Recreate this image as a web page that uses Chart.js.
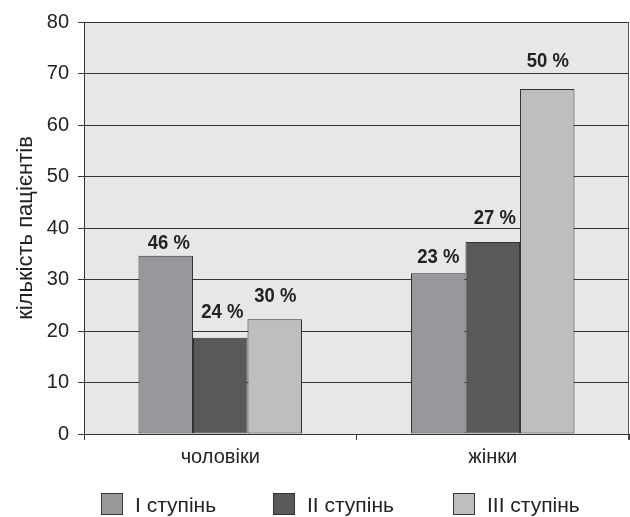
<!DOCTYPE html>
<html>
<head>
<meta charset="utf-8">
<script src="https://cdn.jsdelivr.net/npm/chart.js@4.4.0/dist/chart.umd.min.js"></script>
<style>
  html, body { margin: 0; padding: 0; background: #ffffff; }
  #wrap { width: 630px; height: 517px; position: relative; }
</style>
</head>
<body>
<div id="wrap"><canvas id="c" width="630" height="517"></canvas></div>
<script>
// ---- data ----
const categories = ['чоловіки', 'жінки'];
const seriesNames = ['І ступінь', 'ІІ ступінь', 'ІІІ ступінь'];
const stage1 = [34.6, 31.2];
const stage2 = [18.7, 37.3];
const stage3 = [22.3, 67.0];
const pct1 = ['46 %', '23 %'];
const pct2 = ['24 %', '27 %'];
const pct3 = ['30 %', '50 %'];
const yMin = 0, yMax = 80, yStep = 10;
const yTitle = 'кількість пацієнтів';

const colors = ['#97989c', '#58595b', '#bdbec0'];
const FONT = "'Liberation Sans', Arial, sans-serif";

const seriesValues = [stage1, stage2, stage3];
const seriesPct = [pct1, pct2, pct3];

const bgPlugin = {
  id: 'plotBg',
  beforeDraw(chart) {
    const { ctx, chartArea: a } = chart;
    ctx.save();
    ctx.fillStyle = '#e6e7e9';
    ctx.fillRect(a.left, a.top, a.right - a.left, a.bottom - a.top);
    ctx.restore();
  },
  afterDraw(chart) {
    const { ctx, chartArea: a } = chart;
    ctx.save();
    ctx.strokeStyle = '#555';
    ctx.lineWidth = 1;
    ctx.beginPath();
    ctx.moveTo(a.right - 0.5, a.top);
    ctx.lineTo(a.right - 0.5, a.bottom + 6);
    ctx.stroke();
    ctx.restore();
  }
};

const pctPlugin = {
  id: 'pctLabels',
  afterDatasetsDraw(chart, args, opts) {
    const { ctx } = chart;
    chart.data.datasets.forEach((ds, i) => {
      const meta = chart.getDatasetMeta(i);
      meta.data.forEach((bar, j) => {
        const g = opts.gaps[i][j];
        const dx = opts.dx[i][j];
        ctx.save();
        ctx.translate(bar.x + dx, bar.y - g);
        ctx.scale(0.88, 1);
        ctx.font = 'bold 21px ' + FONT;
        ctx.fillStyle = '#222';
        ctx.textAlign = 'center';
        ctx.textBaseline = 'alphabetic';
        ctx.fillText(ds.pct[j], 0, 0);
        ctx.restore();
      });
    });
  }
};

const legendPlugin = {
  id: 'customLegend',
  afterDraw(chart, args, opts) {
    const { ctx } = chart;
    ctx.save();
    ctx.font = '21px ' + FONT;
    ctx.textBaseline = 'middle';
    ctx.textAlign = 'left';
    chart.data.datasets.forEach((ds, i) => {
      const x = opts.starts[i];
      const y = opts.top;
      ctx.fillStyle = ds.backgroundColor;
      ctx.fillRect(x, y, 22, 22);
      ctx.strokeStyle = '#333';
      ctx.lineWidth = 1;
      ctx.strokeRect(x + 0.5, y + 0.5, 21, 21);
      ctx.fillStyle = '#222';
      ctx.fillText(ds.label, x + 34, y + 13);
    });
    ctx.restore();
  }
};

new Chart(document.getElementById('c'), {
  type: 'bar',
  data: {
    labels: categories,
    datasets: seriesNames.map((n, i) => ({
      label: n,
      data: seriesValues[i],
      pct: seriesPct[i],
      backgroundColor: colors[i],
      borderColor: '#333',
      borderWidth: 1,
      borderSkipped: false,
      categoryPercentage: 0.6,
      barPercentage: 1.0
    }))
  },
  options: {
    responsive: false,
    animation: false,
    devicePixelRatio: 1,
    layout: { padding: { top: 22, right: 1, left: 0, bottom: 0 } },
    plugins: {
      legend: { display: false },
      tooltip: { enabled: false },
      pctLabels: {
        gaps: [[7, 10], [20, 18], [17, 22]],
        dx: [[3, 0], [2, 2], [0.5, 0.5]]
      },
      customLegend: { starts: [101, 273, 453], top: 493 }
    },
    scales: {
      x: {
        offset: true,
        grid: { display: true, drawOnChartArea: false, offset: true, tickLength: 6, color: '#333' },
        border: { display: true, color: '#333' },
        ticks: { font: { family: FONT, size: 20 }, color: '#222', padding: 5 },
        afterFit(s) { s.height = 83; }
      },
      y: {
        min: yMin, max: yMax,
        ticks: { stepSize: yStep, font: { family: FONT, size: 20 }, color: '#222', padding: 9 },
        grid: { color: '#333', tickLength: 6 },
        border: { display: true, color: '#333' },
        title: { display: true, text: yTitle, font: { family: FONT, size: 22 }, color: '#222', padding: { top: 13, bottom: 0 } },
        afterFit(s) { s.width = 84; }
      }
    }
  },
  plugins: [bgPlugin, pctPlugin, legendPlugin]
});
</script>
</body>
</html>
